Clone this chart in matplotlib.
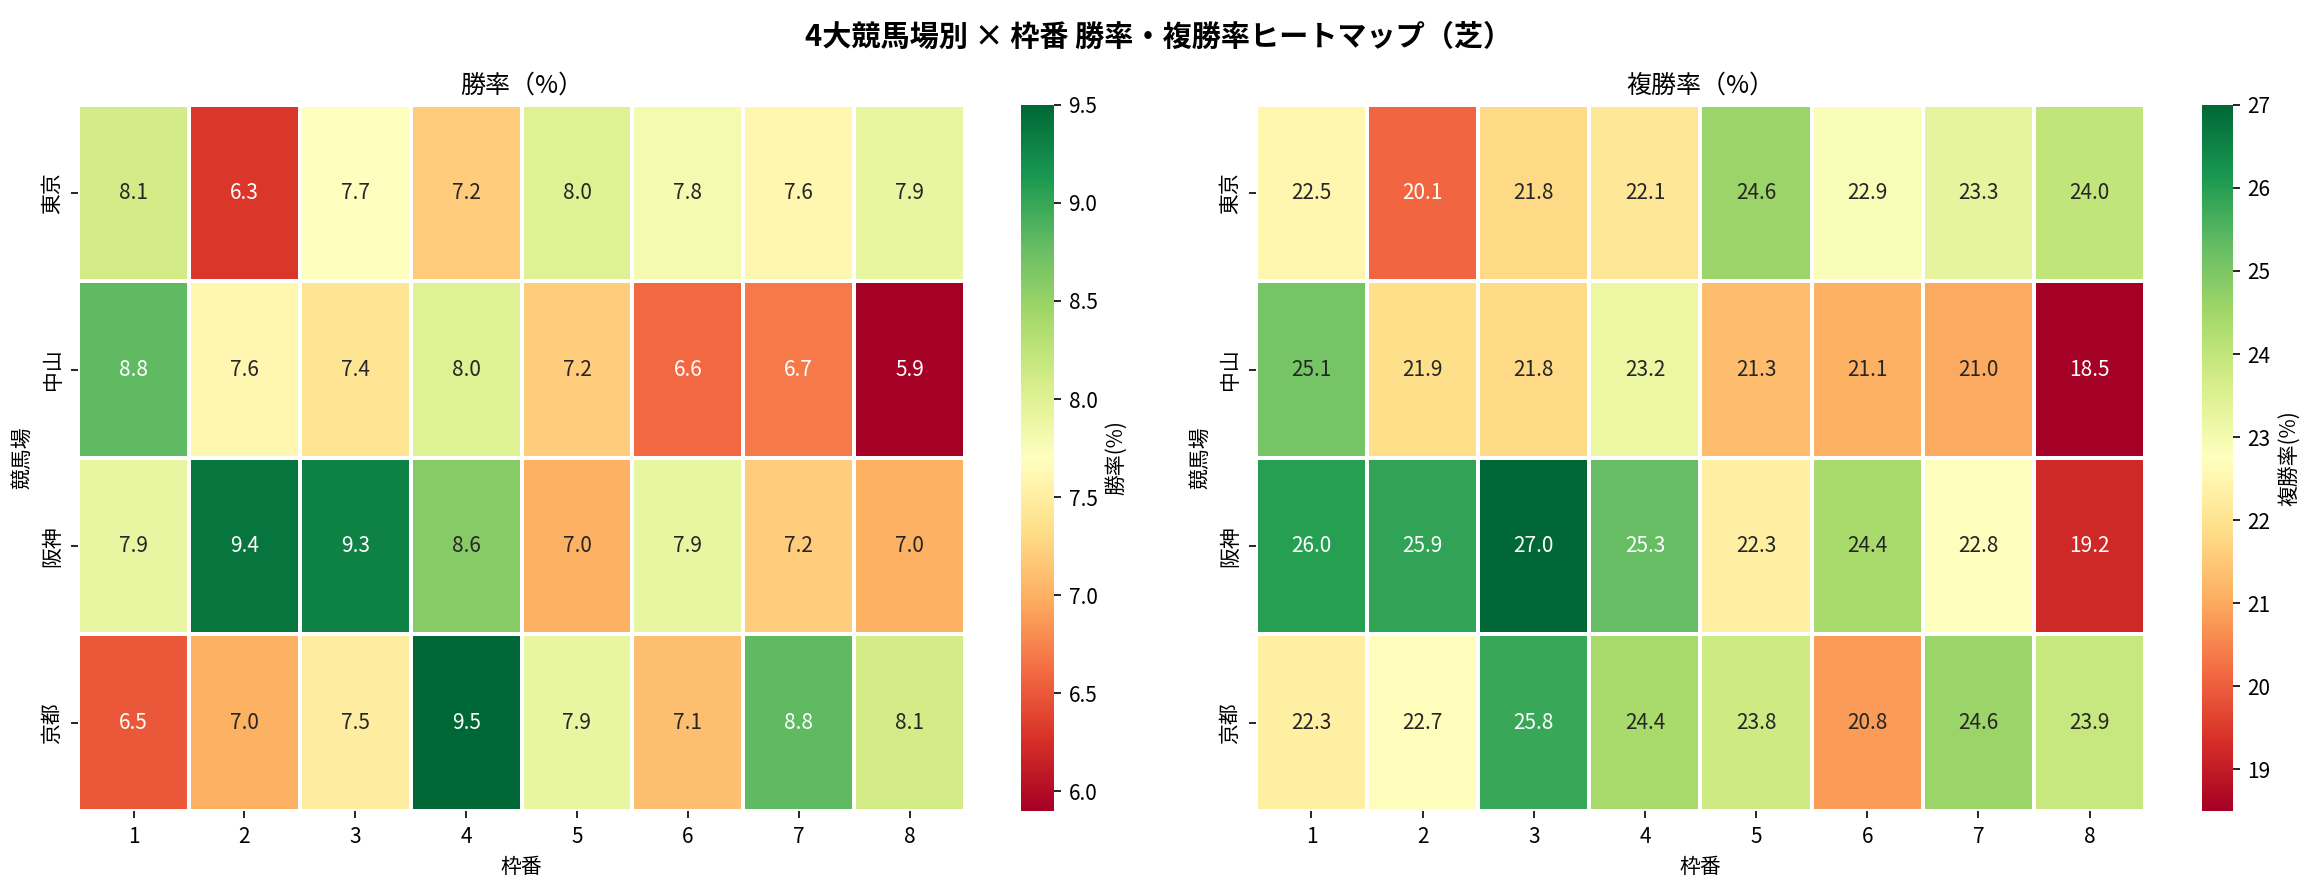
import matplotlib
matplotlib.use("Agg")
import matplotlib.pyplot as plt
import numpy as np
import pandas as pd
import seaborn as sns

plt.rcParams["font.family"] = ["Noto Sans CJK JP", "DejaVu Sans"]
plt.rcParams["axes.unicode_minus"] = False

venues = ["東京", "中山", "阪神", "京都"]
gates = [1, 2, 3, 4, 5, 6, 7, 8]

win_tokyo = [8.1, 6.3, 7.7, 7.2, 8.0, 7.8, 7.6, 7.9]
win_nakayama = [8.8, 7.6, 7.4, 8.0, 7.2, 6.6, 6.7, 5.9]
win_hanshin = [7.9, 9.4, 9.3, 8.6, 7.0, 7.9, 7.2, 7.0]
win_kyoto = [6.5, 7.0, 7.5, 9.5, 7.9, 7.1, 8.8, 8.1]

place_tokyo = [22.5, 20.1, 21.8, 22.1, 24.6, 22.9, 23.3, 24.0]
place_nakayama = [25.1, 21.9, 21.8, 23.2, 21.3, 21.1, 21.0, 18.5]
place_hanshin = [26.0, 25.9, 27.0, 25.3, 22.3, 24.4, 22.8, 19.2]
place_kyoto = [22.3, 22.7, 25.8, 24.4, 23.8, 20.8, 24.6, 23.9]

win_df = pd.DataFrame(
    [win_tokyo, win_nakayama, win_hanshin, win_kyoto], index=venues, columns=gates
)
place_df = pd.DataFrame(
    [place_tokyo, place_nakayama, place_hanshin, place_kyoto], index=venues, columns=gates
)

fig = plt.figure(figsize=(2318 / 150, 888 / 150), dpi=150)

ax1 = fig.add_axes([0.0337, 0.0867, 0.3826, 0.7953])
cax1 = fig.add_axes([0.4405, 0.0867, 0.0142, 0.7953])
ax2 = fig.add_axes([0.5418, 0.0867, 0.3836, 0.7953])
cax2 = fig.add_axes([0.9500, 0.0867, 0.0133, 0.7953])

panels = [
    (ax1, cax1, win_df, "勝率（%）", "勝率(%)"),
    (ax2, cax2, place_df, "複勝率（%）", "複勝率(%)"),
]

for ax, cax, df, title, cbar_label in panels:
    sns.heatmap(
        df,
        ax=ax,
        cbar_ax=cax,
        cmap="RdYlGn",
        annot=True,
        fmt=".1f",
        linewidths=1,
        linecolor="white",
        annot_kws={"size": 10},
        cbar_kws={"label": cbar_label},
    )
    ax.set_title(title, fontsize=12)
    ax.set_xlabel("枠番", fontsize=10)
    ax.set_ylabel("競馬場", fontsize=10)
    ax.tick_params(labelsize=10)
    plt.setp(ax.get_yticklabels(), rotation=90, va="center")
    cax.tick_params(labelsize=10)
    cax.yaxis.label.set_size(10)

fig.suptitle("4大競馬場別 × 枠番 勝率・複勝率ヒートマップ（芝）", fontsize=14, fontweight="bold", y=0.975)

fig.savefig("out.png", dpi=150)
